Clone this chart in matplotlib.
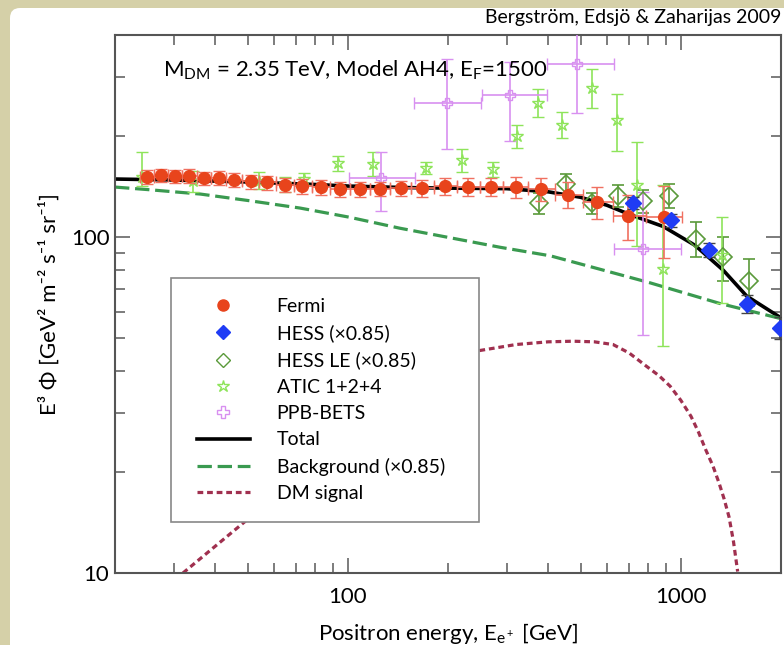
import numpy as np
import matplotlib
matplotlib.use("Agg")
import matplotlib.pyplot as plt
from matplotlib.patches import FancyBboxPatch, Rectangle
from matplotlib.lines import Line2D
from matplotlib.ticker import FixedLocator, NullFormatter, FixedFormatter
from matplotlib.transforms import IdentityTransform

plt.rcParams['font.family'] = ['Lato', 'DejaVu Sans']
plt.rcParams['mathtext.fontset'] = 'custom'
plt.rcParams['mathtext.rm'] = 'Lato'
plt.rcParams['mathtext.it'] = 'Lato'
plt.rcParams['mathtext.default'] = 'regular'

# ---- data (GeV, GeV^2 m^-2 s^-1 sr^-1) ----
fermi_E = [24.9, 27.4, 30.3, 33.4, 37.0, 41.0, 45.5, 51.1, 57.3, 64.8, 73.0, 83.0, 94.8,
           108.8, 125.0, 144.2, 167.1, 195.9, 229.7, 269.3, 320.0, 380.4, 458.8, 560.6, 694.6, 890.7]
fermi_F = [151.4, 153.1, 151.8, 152.4, 149.7, 150.0, 147.9, 146.6, 145.6, 142.9, 141.7, 140.7, 139.1,
           139.1, 139.4, 139.8, 140.1, 141.7, 141.3, 141.3, 140.7, 139.1, 133.8, 127.5, 115.8, 114.5]
fermi_err = [7, 7, 7, 7, 7, 7, 7, 7, 7, 7, 7, 7, 7,
             7, 7, 7, 8, 8, 9, 9, 10, 11, 12, 14, 18, 28]

hess_E = [717, 933, 1218, 1584, 1986]
hess_F = [126.3, 112.4, 91.6, 63.4, 53.8]
hess_err = [5, 5, 4.5, 4, 4]

hessle_E = [376, 452, 540, 647, 769, 924, 1111, 1336, 1603]
hessle_F = [126.3, 143.9, 126.3, 132.8, 128.3, 132.8, 99.1, 87.0, 74.3]
hessle_err = [9, 10, 9, 10, 10, 11, 12, 13, 12]

atic_E = [24.1, 34.4, 54.3, 64.8, 73.9, 93.7, 119.3, 171.8, 220.4, 273, 323, 373.4, 440.8,
          542.6, 644.8, 740.6, 886, 1327]
atic_F = [151.1, 147.3, 147.3, 143.9, 149.0, 166.3, 165.2, 160.4, 170.3, 160.0, 199.8, 251.2, 216.0,
          278.5, 223.6, 143.2, 80.3, 88.4]
atic_lo = [141.9, 135.9, 139.1, 136.2, 142.9, 157.8, 152.4, 154.2, 156.3, 150.8, 184.0, 227.7, 197.1,
           242.2, 181.0, 94.2, 47.4, 63.8]
atic_hi = [179.4, 157.8, 156.3, 151.1, 155.2, 174.9, 179.4, 167.8, 183.1, 167.1, 216.0, 275.3, 236.6,
           315.8, 267.3, 191.7, 142.9, 115.0]

ppb_E = [125.9, 198.6, 307.1, 487.1, 772.3]
ppb_Elo = [100.7, 158.1, 252.6, 397.4, 631.6]
ppb_Ehi = [159.2, 251.4, 397.4, 631.6, 999.7]
ppb_F = [149.7, 251.2, 264.2, 328.5, 92.5]
ppb_lo = [119.8, 183.1, 193.9, 234.5, 51.0]
ppb_hi = [179.4, 339.8, 333.0, 430.0, 135.9]

total_E = [20, 30, 50, 80, 100, 150, 200, 300, 400, 500, 600, 700, 886, 1103, 1342, 1577, 2000]
total_F = [149, 148, 146, 143.5, 142, 140.5, 140, 139.5, 136.5, 131.5, 124.5, 117, 107.6, 94.6, 79.7, 66.8, 57.5]

bg_E = [20, 25.5, 36.1, 50.7, 71.9, 101, 143, 202, 287, 406, 806, 1309, 2000]
bg_F = [141, 138.4, 134.4, 128.4, 122.1, 114.7, 106.4, 99.7, 93.3, 88.0, 73.2, 63.5, 57.2]

dm_E = [32, 49, 100, 150, 217, 250, 320, 400, 474, 550, 626, 700, 788, 860, 929, 1000, 1073,
        1130, 1188, 1250, 1304, 1350, 1396, 1440, 1482]
dm_F = [10, 14.2, 27, 36, 44.8, 46.0, 47.9, 48.8, 49.0, 48.8, 47.9, 45.2, 41.3, 38.7, 36.0, 32.7, 29.3,
        26.3, 23.3, 20.8, 18.5, 16.6, 14.7, 12.4, 10.1]

c_fermi = '#e8441c'
c_hess = '#1f3cf5'
c_hessle = '#5a9a3a'
c_atic = '#8ee45a'
c_ppb = '#d890f0'
c_bg = '#3a9a50'
c_dm = '#a0304f'

fig = plt.figure(figsize=(7.84, 6.45), dpi=100)
fig.patch.set_facecolor('#d5d0a8')
paper = FancyBboxPatch((10, -30), 820, 667, boxstyle='round,pad=0,rounding_size=10',
                       transform=IdentityTransform(), facecolor='white', edgecolor='none', zorder=0)
fig.add_artist(paper)

ax = fig.add_axes([115 / 784, 1 - 573 / 645, 666 / 784, 538 / 645])
ax.set_xscale('log')
ax.set_yscale('log')
ax.set_xlim(20, 2000)
ax.set_ylim(10, 400)

# model curves
ax.plot(total_E, total_F, color='black', lw=2.6, zorder=2)
bg_line, = ax.plot(bg_E, bg_F, color=c_bg, lw=2.3, zorder=2)
bg_line.set_dashes((4.5, 1.8))
dm_line, = ax.plot(dm_E, dm_F, color=c_dm, lw=2.3, zorder=2)
dm_line.set_dashes((1.8, 1.2))

# data
E = np.array(fermi_E)
edges = np.sqrt(E[:-1] * E[1:])
left = np.concatenate([[E[0] ** 2 / edges[0]], edges])
right = np.concatenate([edges, [E[-1] ** 2 / edges[-1]]])
ax.errorbar(fermi_E, fermi_F, yerr=fermi_err, xerr=[E - left, right - E], fmt='o', color=c_fermi,
            ecolor='#f07060', ms=8.5, capsize=4, elinewidth=1.2, zorder=4)

ax.errorbar(hessle_E, hessle_F, yerr=hessle_err, fmt='D', mfc='none', mec=c_hessle, ecolor=c_hessle,
            ms=9, mew=1.2, capsize=4, elinewidth=1.2, zorder=3)
ax.errorbar(hess_E, hess_F, yerr=hess_err, fmt='D', color=c_hess, ecolor='#444444',
            ms=8, capsize=4, elinewidth=1.2, zorder=4)

aF = np.array(atic_F)
ax.errorbar(atic_E, atic_F, yerr=[aF - np.array(atic_lo), np.array(atic_hi) - aF], fmt='*', mfc='none',
            mec=c_atic, ecolor=c_atic, ms=9, mew=1.0, capsize=4, elinewidth=1.2, zorder=3)

pE = np.array(ppb_E)
pF = np.array(ppb_F)
ax.errorbar(ppb_E, ppb_F, xerr=[pE - np.array(ppb_Elo), np.array(ppb_Ehi) - pE],
            yerr=[pF - np.array(ppb_lo), np.array(ppb_hi) - pF], fmt='P', mfc='none', mec=c_ppb,
            ecolor=c_ppb, ms=7, mew=1.0, capsize=4, elinewidth=1.2, zorder=3)

# axes styling
for s in ax.spines.values():
    s.set_color('#555555')
    s.set_linewidth(1.5)
ax.xaxis.set_major_locator(FixedLocator([100, 1000]))
ax.xaxis.set_major_formatter(FixedFormatter(['100', '1000']))
ax.xaxis.set_minor_locator(FixedLocator([30, 40, 50, 60, 70, 80, 90, 200, 300, 400, 500, 600, 700, 800, 900]))
ax.xaxis.set_minor_formatter(NullFormatter())
ax.yaxis.set_major_locator(FixedLocator([10, 100]))
ax.yaxis.set_major_formatter(FixedFormatter(['10', '100']))
ax.yaxis.set_minor_locator(FixedLocator([20, 30, 40, 50, 60, 70, 80, 90, 200, 300]))
ax.yaxis.set_minor_formatter(NullFormatter())
ax.tick_params(which='both', direction='in', top=True, right=True, color='#666666', width=1.2,
               labelsize=16)
ax.tick_params(axis='x', which='major', pad=10)
ax.tick_params(axis='y', which='major', pad=4)
ax.tick_params(which='major', length=11)
ax.tick_params(which='minor', length=7)

ax.set_xlabel(r'Positron energy, E$_{e^+}$ [GeV]', fontsize=16, labelpad=10)
ax.set_ylabel('E³ Φ [GeV² m⁻² s⁻¹ sr⁻¹]', fontsize=16, labelpad=8)

ax.text(0.072, 0.935, r'M$_{DM}$ = 2.35 TeV, Model AH4, E$_F$=1500', transform=ax.transAxes,
        fontsize=16, va='center', ha='left', zorder=8)
fig.text(781 / 784, 1 - 18 / 645, 'Bergström, Edsjö & Zaharijas 2009', ha='right', va='center',
         fontsize=14)

# legend box + entries
ax.add_patch(Rectangle((56 / 666, 51 / 538), 308 / 666, 244 / 538, transform=ax.transAxes,
                       facecolor='white', edgecolor='#888888', lw=1.2, zorder=6))
handles = [
    Line2D([], [], ls='none', marker='o', color=c_fermi, ms=8),
    Line2D([], [], ls='none', marker='D', color=c_hess, ms=7),
    Line2D([], [], ls='none', marker='D', mfc='none', mec=c_hessle, ms=7),
    Line2D([], [], ls='none', marker='*', mfc='none', mec=c_atic, ms=9),
    Line2D([], [], ls='none', marker='P', mfc='none', mec=c_ppb, ms=8),
    Line2D([], [], color='black', lw=2.6),
    Line2D([], [], color=c_bg, lw=2.3, dashes=(4.5, 1.8)),
    Line2D([], [], color=c_dm, lw=2.3, dashes=(1.8, 1.2)),
]
labels = ['Fermi', 'HESS (×0.85)', 'HESS LE (×0.85)', 'ATIC 1+2+4', 'PPB-BETS', 'Total',
          'Background (×0.85)', 'DM signal']
leg = ax.legend(handles, labels, loc='upper left', bbox_to_anchor=((196.7 - 115) / 666, (573 - 298) / 538),
                frameon=False, fontsize=14, borderpad=0, labelspacing=0.48, handlelength=2.74,
                handletextpad=1.37, borderaxespad=0)
leg.set_zorder(7)

fig.savefig('out.png', dpi=100, facecolor=fig.get_facecolor())
